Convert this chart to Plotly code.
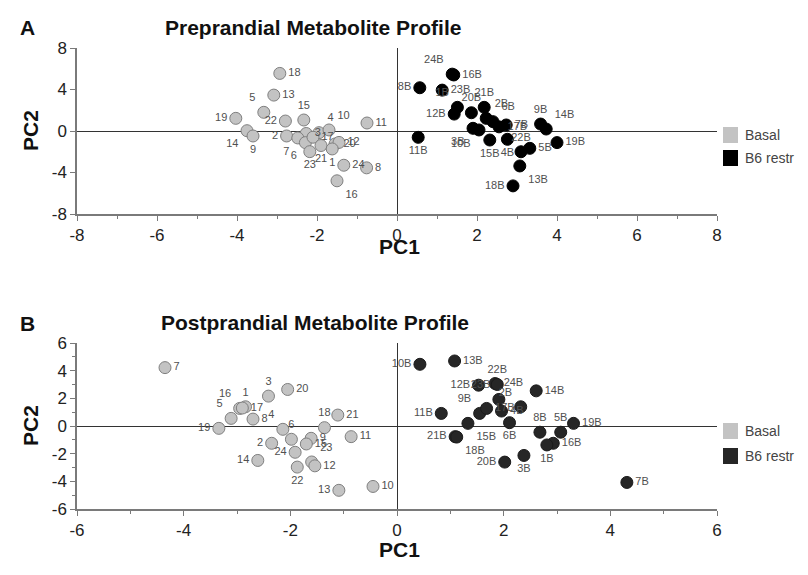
import plotly.graph_objects as go

# ---------------- Data ----------------
# Panel A: Preprandial
pre_basal_labels = ["18", "13", "5", "19", "14", "9", "22", "15", "4", "10", "3", "2", "7", "6",
                    "17", "23", "21", "20", "12", "1", "24", "8", "16", "11"]
pre_basal_x = [-2.93, -3.08, -3.33, -4.03, -3.75, -3.60, -2.79, -2.33, -1.95, -1.70, -2.27, -2.76,
               -2.48, -2.29, -2.10, -2.18, -1.90, -1.55, -1.45, -1.62, -1.33, -0.76, -1.50, -0.75]
pre_basal_y = [5.55, 3.46, 1.80, 1.22, 0.03, -0.48, 0.96, 1.06, -0.16, 0.10, -0.24, -0.48,
               -0.67, -1.12, -0.60, -1.99, -1.40, -1.25, -1.10, -1.73, -3.30, -3.55, -4.80, 0.77]

pre_b6_labels = ["24B", "16B", "8B", "1B", "12B", "20B", "21B", "2B", "6B", "3B", "10B", "15B",
                 "4B", "7B", "17B", "9B", "14B", "19B", "5B", "22B", "13B", "18B", "11B", "23B"]
pre_b6_x = [1.38, 1.42, 0.57, 1.51, 1.43, 1.86, 2.18, 2.23, 2.40, 1.90, 2.05, 2.32,
            2.76, 2.73, 2.55, 3.59, 3.73, 4.00, 3.32, 3.10, 3.07, 2.90, 0.53, 1.13]
pre_b6_y = [5.48, 5.40, 4.17, 2.28, 1.63, 1.76, 2.28, 1.22, 0.90, 0.26, 0.10, -0.87,
            -0.80, 0.58, 0.40, 0.67, 0.19, -1.12, -1.67, -2.00, -3.37, -5.29, -0.61, 3.94]

# Panel B: Postprandial
post_basal_labels = ["7", "3", "20", "16", "1", "5", "19", "8", "4", "6", "18", "21",
                     "11", "9", "15", "2", "24", "14", "23", "12", "22", "13", "10", "17"]
post_basal_x = [-4.35, -2.41, -2.05, -2.95, -2.84, -3.11, -3.34, -2.70, -2.14, -1.98, -1.36, -1.11,
                -0.86, -1.61, -1.70, -2.35, -1.91, -2.61, -1.60, -1.54, -1.87, -1.09, -0.45, -2.90]
post_basal_y = [4.22, 2.16, 2.64, 1.27, 1.39, 0.55, -0.17, 0.50, -0.24, -0.96, -0.12, 0.79,
                -0.77, -0.89, -1.30, -1.25, -1.90, -2.49, -2.60, -2.88, -2.97, -4.65, -4.37, 1.30]

post_b6_labels = ["10B", "13B", "12B", "24B", "22B", "14B", "2B", "23B", "4B", "9B", "17B", "11B",
                  "15B", "6B", "21B", "18B", "8B", "5B", "19B", "16B", "1B", "3B", "20B", "7B"]
post_b6_x = [0.43, 1.08, 1.53, 1.84, 1.88, 2.61, 2.32, 1.91, 1.96, 1.55, 1.68, 0.83,
             1.33, 2.11, 1.09, 1.12, 2.68, 3.07, 3.31, 2.93, 2.81, 2.38, 2.02, 4.31]
post_b6_y = [4.46, 4.70, 2.95, 3.07, 3.00, 2.54, 1.39, 1.92, 1.08, 0.91, 1.27, 0.91,
             0.19, 0.24, -0.77, -0.80, -0.45, -0.45, 0.19, -1.25, -1.37, -2.13, -2.61, -4.08]

legend_names = ["Basal", "B6 restr"]

# Tick values / labels (hyphen minus as in the reference)
pre_x_ticks = [-8, -6, -4, -2, 0, 2, 4, 6, 8]
pre_y_ticks = [-8, -4, 0, 4, 8]
post_x_ticks = [-6, -4, -2, 0, 2, 4, 6]
post_y_ticks = [-6, -4, -2, 0, 2, 4, 6]

# ---------------- Label placement (style) ----------------
pre_basal_pos = ["middle right", "middle right", "top left", "middle left", "bottom left", "bottom center",
                 "middle left", "top center", "top right", "top right", "middle right", "middle left",
                 "bottom left", "bottom left", "middle right", "bottom center", "bottom center", "middle right",
                 "middle right", "bottom center", "middle right", "middle right", "bottom right", "middle right"]
pre_b6_pos = ["top left", "middle right", "middle left", "top left", "middle left", "top center",
              "top center", "top right", "top right", "bottom left", "bottom left", "bottom center",
              "bottom center", "middle right", "middle right", "top center", "top right", "middle right",
              "middle right", "top center", "bottom right", "middle left", "bottom center", "middle right"]
post_basal_pos = ["middle right", "top center", "middle right", "top left", "top center", "top left",
                  "middle left", "middle right", "top left", "top center", "top center", "middle right",
                  "middle right", "middle right", "middle right", "middle left", "middle left", "middle left",
                  "top right", "middle right", "bottom center", "middle left", "middle right", "middle right"]
post_b6_pos = ["middle left", "middle right", "middle left", "middle right", "top center", "middle right",
               "top left", "top left", "middle right", "top left", "middle right", "middle left",
               "bottom right", "bottom center", "middle left", "bottom right", "top center", "top center",
               "middle right", "middle right", "bottom center", "bottom center", "middle left", "middle right"]

GRAY_FILL = "#c3c3c3"
GRAY_LINE = "#7f7f7f"
LABEL_COL = "#505050"

fig = go.Figure()


def add_points(x, y, labels, pos, fill, line, xa, ya):
    fig.add_trace(go.Scatter(
        x=x, y=y, text=labels, mode="markers+text", textposition=pos,
        marker=dict(size=12, color=fill, line=dict(color=line, width=1)),
        textfont=dict(family="Liberation Sans, Arial", size=11, color=LABEL_COL),
        xaxis=xa, yaxis=ya, showlegend=False, cliponaxis=False,
    ))


add_points(pre_basal_x, pre_basal_y, pre_basal_labels, pre_basal_pos, GRAY_FILL, GRAY_LINE, "x", "y")
add_points(pre_b6_x, pre_b6_y, pre_b6_labels, pre_b6_pos, "#000000", "#000000", "x", "y")
add_points(post_basal_x, post_basal_y, post_basal_labels, post_basal_pos, GRAY_FILL, GRAY_LINE, "x2", "y2")
add_points(post_b6_x, post_b6_y, post_b6_labels, post_b6_pos, "#262626", "#1a1a1a", "x2", "y2")

# The page body adds an 8px margin; layout coordinates below are page pixels.
OFF = 8
W, H = 808 - 2 * OFF, 575 - 2 * OFF
px = lambda v: (v - OFF) / W
py = lambda v: 1 - (v - OFF) / H

tickfont = dict(family="Liberation Sans, Arial", size=17, color="#222222")
axis_common = dict(
    showgrid=False, showline=True, linecolor="#7a7a7a", linewidth=1.5,
    ticks="outside", ticklen=5, tickcolor="#7a7a7a", tickwidth=1,
    zeroline=True, zerolinecolor="#333333", zerolinewidth=1,
    tickfont=tickfont, fixedrange=True, automargin=False, tickmode="array",
)
minor = dict(dtick=1, ticks="outside", ticklen=3, tickcolor="#7a7a7a")


def tk(vals):
    return dict(tickvals=vals, ticktext=[str(v) for v in vals])


fig.update_layout(
    width=W, height=H,
    margin=dict(l=0, r=0, t=0, b=0, autoexpand=False),
    paper_bgcolor="white", plot_bgcolor="white",
    xaxis=dict(domain=[px(77), px(717)], range=[-8, 8], anchor="y", minor=minor,
               **tk(pre_x_ticks), **axis_common),
    yaxis=dict(domain=[py(214), py(48)], range=[-8, 8], anchor="x",
               **tk(pre_y_ticks), **axis_common),
    xaxis2=dict(domain=[px(77), px(717)], range=[-6, 6], anchor="y2", minor=minor,
                **tk(post_x_ticks), **axis_common),
    yaxis2=dict(domain=[py(509), py(343)], range=[-6, 6], anchor="x2", minor=minor,
                **tk(post_y_ticks), **axis_common),
)

bold = dict(family="Liberation Sans, Arial", size=21, color="#111111")
texts = [
    ("A", 18, 27, "left"),
    ("B", 18, 323, "left"),
    ("Preprandial Metabolite Profile", 313, 27, "center"),
    ("Postprandial Metabolite Profile", 315, 322, "center"),
    ("PC1", 399, 246, "center"),
    ("PC1", 399, 549, "center"),
]
for t, x, y, al in texts:
    fig.add_annotation(text=f"<b>{t}</b>", x=px(x), y=py(y), xref="paper", yref="paper",
                       showarrow=False, font=bold, xanchor=al, yanchor="middle")
for y in (131, 426):
    fig.add_annotation(text="<b>PC2</b>", x=px(30), y=py(y), xref="paper", yref="paper",
                       showarrow=False, font=bold, textangle=-90, xanchor="center", yanchor="middle")

# Legends (drawn)
leg_font = dict(family="Liberation Sans, Arial", size=14, color="#444444")
legend_rows = [(135, GRAY_FILL, 0), (158, "#000000", 1), (431, GRAY_FILL, 0), (456, "#262626", 1)]
for yc, col, i in legend_rows:
    fig.add_shape(type="rect", xref="paper", yref="paper",
                  x0=px(723), x1=px(738), y0=py(yc + 8), y1=py(yc - 8),
                  fillcolor=col, line=dict(color=col, width=0))
    fig.add_annotation(text=legend_names[i], x=px(743), y=py(yc), xref="paper", yref="paper",
                       showarrow=False, font=leg_font, xanchor="left", yanchor="middle")

fig.write_html("out.html")
